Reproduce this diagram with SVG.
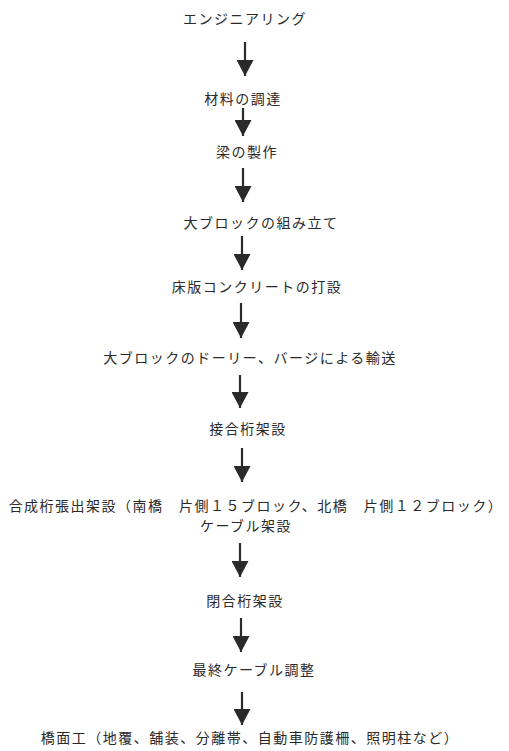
<svg xmlns="http://www.w3.org/2000/svg" width="509" height="751" viewBox="0 0 509 751">
<style>
.t{font-family:"Noto Sans CJK JP","Noto Sans",sans-serif;font-size:14px;fill:#2a2a2a;text-anchor:middle;letter-spacing:1.5px}
.c line{stroke:#2a2a2a;stroke-width:2.2}
</style>
<defs>
<marker id="ah" markerUnits="userSpaceOnUse" viewBox="0 0 16 17" markerWidth="16" markerHeight="17" refX="16" refY="8.5" orient="auto">
<path d="M0,0 L16,8.5 L0,17 z" fill="#2a2a2a"/>
</marker>
</defs>
<rect width="509" height="751" fill="#ffffff"/>
<g id="n1"><text class="t" x="245" y="24">エンジニアリング</text></g>
<g id="n2"><text class="t" x="243" y="104">材料の調達</text></g>
<g id="n3"><text class="t" x="247" y="157">梁の製作</text></g>
<g id="n4"><text class="t" x="261" y="228">大ブロックの組み立て</text></g>
<g id="n5"><text class="t" x="257" y="292">床版コンクリートの打設</text></g>
<g id="n6"><text class="t" x="250" y="363">大ブロックのドーリー、バージによる輸送</text></g>
<g id="n7"><text class="t" x="248" y="434">接合桁架設</text></g>
<g id="n8"><text class="t" x="256" y="511">合成桁張出架設（南橋　片側１５ブロック、北橋　片側１２ブロック）</text>
<text class="t" x="246" y="531">ケーブル架設</text></g>
<g id="n9"><text class="t" x="245" y="606">閉合桁架設</text></g>
<g id="n10"><text class="t" x="254" y="675">最終ケーブル調整</text></g>
<g id="n11"><text class="t" x="250" y="743">橋面工（地覆、舗装、分離帯、自動車防護柵、照明柱など）</text></g>
<g id="connectors" class="c">
<line x1="245" y1="42" x2="245" y2="76" marker-end="url(#ah)"/>
<line x1="243" y1="108" x2="243" y2="136" marker-end="url(#ah)"/>
<line x1="243" y1="168" x2="243" y2="202" marker-end="url(#ah)"/>
<line x1="242" y1="236" x2="242" y2="270" marker-end="url(#ah)"/>
<line x1="241" y1="303" x2="241" y2="338" marker-end="url(#ah)"/>
<line x1="240" y1="375" x2="240" y2="408" marker-end="url(#ah)"/>
<line x1="242" y1="448" x2="242" y2="482" marker-end="url(#ah)"/>
<line x1="240" y1="543" x2="240" y2="577" marker-end="url(#ah)"/>
<line x1="241" y1="618" x2="241" y2="652" marker-end="url(#ah)"/>
<line x1="242" y1="692" x2="242" y2="725" marker-end="url(#ah)"/>
</g>
</svg>
